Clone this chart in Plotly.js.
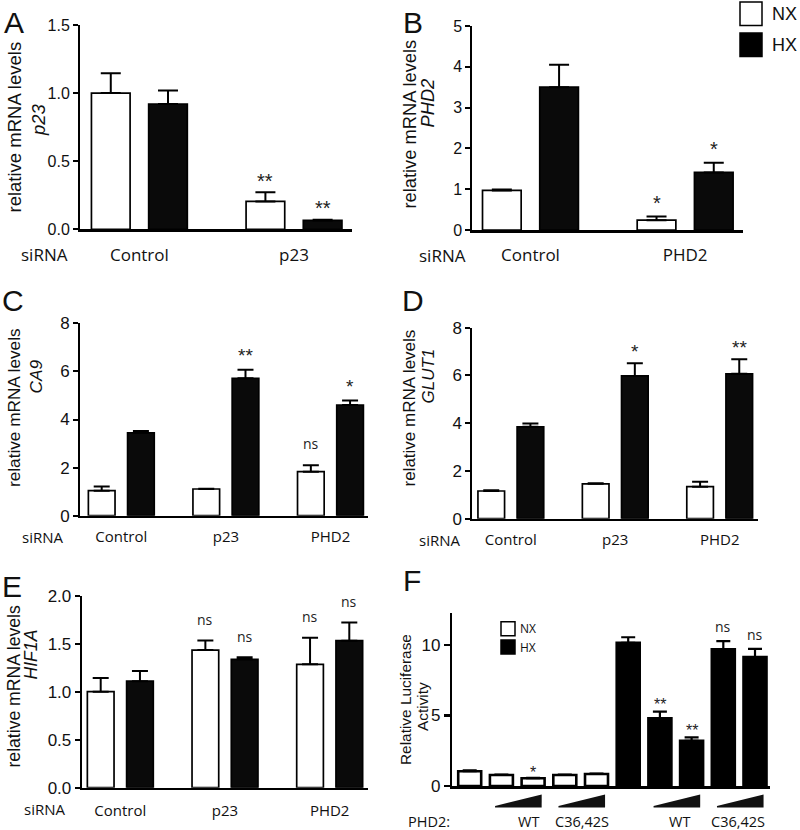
<!DOCTYPE html>
<html><head><meta charset="utf-8">
<script src="https://cdn.plot.ly/plotly-3.0.1.min.js"></script>
<style>body{margin:0;background:#fff}#chart{width:800px;height:830px}</style>
</head><body><div id="chart"></div>
<script>
// ---------------- DATA ----------------
// Panel A: p23 mRNA
const catsA = ['Control', 'p23'];
const nxA = [1.00, 0.205];
const nxAErr = [0.145, 0.067];
const hxA = [0.92, 0.065];
const hxAErr = [0.10, 0.006];
const sigNxA = ['', '**'];
const sigHxA = ['', '**'];

// Panel B: PHD2 mRNA
const catsB = ['Control', 'PHD2'];
const nxB = [0.97, 0.24];
const nxBErr = [0.02, 0.09];
const hxB = [3.50, 1.41];
const hxBErr = [0.55, 0.24];
const sigNxB = ['', '*'];
const sigHxB = ['', '*'];

// Panel C: CA9 mRNA
const catsC = ['Control', 'p23', 'PHD2'];
const nxC = [1.04, 1.11, 1.83];
const nxCErr = [0.17, 0.01, 0.27];
const hxC = [3.45, 5.71, 4.60];
const hxCErr = [0.07, 0.36, 0.19];
const sigNxC = ['', '', 'ns'];
const sigHxC = ['', '**', '*'];

// Panel D: GLUT1 mRNA
const catsD = ['Control', 'p23', 'PHD2'];
const nxD = [1.16, 1.46, 1.34];
const nxDErr = [0.03, 0.02, 0.21];
const hxD = [3.85, 5.98, 6.07];
const hxDErr = [0.14, 0.53, 0.61];
const sigNxD = ['', '', ''];
const sigHxD = ['', '*', '**'];

// Panel E: HIF1A mRNA
const catsE = ['Control', 'p23', 'PHD2'];
const nxE = [1.00, 1.434, 1.285];
const nxEErr = [0.143, 0.10, 0.278];
const hxE = [1.11, 1.337, 1.531];
const hxEErr = [0.106, 0.021, 0.19];
const sigNxE = ['', 'ns', 'ns'];
const sigHxE = ['', 'ns', 'ns'];

// Panel F: luciferase activity
const catsF = ['NX', 'NX WT low', 'NX WT high', 'NX C36,42S low', 'NX C36,42S high',
               'HX', 'HX WT low', 'HX WT high', 'HX C36,42S low', 'HX C36,42S high'];
const nxF = [1.05, 0.78, 0.55, 0.78, 0.85];
const nxFErr = [0.06, 0.03, 0.03, 0.03, 0.03];
const hxF = [10.15, 4.80, 3.20, 9.70, 9.15];
const hxFErr = [0.40, 0.47, 0.25, 0.58, 0.57];
const sigNxF = ['', '', '*', '', ''];
const sigHxF = ['', '**', '**', 'ns', 'ns'];
const wedgePairsF = [[1, 2], [3, 4], [6, 7], [8, 9]];
const wedgeLabelsF = ['WT', 'C36,42S', 'WT', 'C36,42S'];

// axis title texts
const yTitleMain = 'relative mRNA levels';
const genes = ['p23', 'PHD2', 'CA9', 'GLUT1', 'HIF1A'];
const yTitleF = ['Relative Luciferase', 'Activity'];

// ---------------- LAYOUT HELPERS ----------------
const W = 800, H = 830;
const px = x => x / W;
const py = y => 1 - y / H;
const ARIAL = 'Liberation Sans, Arial, Helvetica, sans-serif';
const MYRIAD = 'Open Sans, Noto Sans, sans-serif';

// t1/t2: [centerX, centerY] in px of the two title lines
const panels = [
  {letter: 'A', letterPos: [2, 4], cats: catsA, nx: nxA, nxe: nxAErr, hx: hxA, hxe: hxAErr, sN: sigNxA, sH: sigHxA,
   dom: [80, 352, 25, 229.3], xr: [-0.384, 1.375], yr: [0, 1.5], dtick: 0.5, fmt: '.1f',
   w: 0.25, gap: 0.12, tickFs: 16, catFs: 17, titleFs: 18.5, astFs: 20, nsFs: 14, gapPx: 15, catStand: 9, cap: 10,
   t1: [14.5, 127], t2: [38, 120], siX: 19},
  {letter: 'B', letterPos: [401, 4], cats: catsB, nx: nxB, nxe: nxBErr, hx: hxB, hxe: hxBErr, sN: sigNxB, sH: sigHxB,
   dom: [472.3, 743, 26, 230], xr: [-0.376, 1.374], yr: [0, 5], dtick: 1, fmt: '',
   w: 0.25, gap: 0.12, tickFs: 16, catFs: 17, titleFs: 18.3, astFs: 20, nsFs: 14, gapPx: 17.5, catStand: 8, cap: 10,
   t1: [409, 124.5], t2: [427.5, 103], siX: 417},
  {letter: 'C', letterPos: [0, 282], cats: catsC, nx: nxC, nxe: nxCErr, hx: hxC, hxe: hxCErr, sN: sigNxC, sH: sigHxC,
   dom: [80, 368, 323.3, 515.7], xr: [-0.395, 2.359], yr: [0, 8], dtick: 2, fmt: '',
   w: 0.255, gap: 0.12, tickFs: 17, catFs: 15, titleFs: 17.2, astFs: 19, nsFs: 14, gapPx: 17.5, catStand: 6, cap: 8,
   t1: [13.5, 407.5], t2: [35.5, 377], siX: 20},
  {letter: 'D', letterPos: [400, 282], cats: catsD, nx: nxD, nxe: nxDErr, hx: hxD, hxe: hxDErr, sN: sigNxD, sH: sigHxD,
   dom: [472.3, 758, 327.7, 518.7], xr: [-0.369, 2.367], yr: [0, 8], dtick: 2, fmt: '',
   w: 0.255, gap: 0.12, tickFs: 17, catFs: 15, titleFs: 17, astFs: 19, nsFs: 14, gapPx: 14.5, catStand: 6, cap: 8,
   t1: [409, 408.5], t2: [427.5, 376], siX: 417},
  {letter: 'E', letterPos: [0, 568], cats: catsE, nx: nxE, nxe: nxEErr, hx: hxE, hxe: hxEErr, sN: sigNxE, sH: sigHxE,
   dom: [81.7, 368.3, 595.7, 787.7], xr: [-0.369, 2.369], yr: [0, 2], dtick: 0.5, fmt: '.1f',
   w: 0.255, gap: 0.12, tickFs: 17, catFs: 15, titleFs: 17.6, astFs: 19, nsFs: 14, gapPx: 16.5, catStand: 8, cap: 8,
   t1: [13.5, 686], t2: [30.5, 655], siX: 22},
];

const data = [];
const annotations = [];
const shapes = [];
const layout = {
  width: W, height: H, margin: {l: 0, r: 0, t: 0, b: 0},
  paper_bgcolor: '#fff', plot_bgcolor: '#fff', showlegend: false, barmode: 'overlay',
  font: {family: ARIAL, color: '#000'},
  annotations, shapes
};

function sigAnn(txt, xref, yref, x, y, astFs, nsFs, gapPx) {
  if (!txt) return;
  const isNs = txt === 'ns';
  const fs = isNs ? nsFs : astFs;
  annotations.push({
    text: txt, xref, yref, x, y, xanchor: 'center', yanchor: 'bottom', showarrow: false,
    yshift: gapPx - (isNs ? 0.52 : 0.825) * fs,
    font: {family: isNs ? MYRIAD : ARIAL, size: fs, color: '#222'}
  });
}

function vText(text, pos, fs) {
  annotations.push({text, xref: 'paper', yref: 'paper', x: px(pos[0]), y: py(pos[1]), textangle: -90,
    xanchor: 'center', yanchor: 'middle', showarrow: false, font: {family: ARIAL, size: fs, color: '#111'}});
}

panels.forEach((p, i) => {
  const sfx = i === 0 ? '' : String(i + 1);
  const xref = 'x' + sfx, yref = 'y' + sfx;
  const nxOff = -(p.w + p.gap / 2), hxOff = p.gap / 2;
  const eb = (e) => ({type: 'data', symmetric: false, array: e, arrayminus: e.map(() => 0),
                      color: '#000', thickness: 2, width: p.cap});
  data.push({type: 'bar', name: 'NX', x: p.cats, y: p.nx, xaxis: xref, yaxis: yref,
    width: p.w, offset: nxOff, marker: {color: '#fff', line: {color: '#000', width: 1.7}}, error_y: eb(p.nxe)});
  data.push({type: 'bar', name: 'HX', x: p.cats, y: p.hx, xaxis: xref, yaxis: yref,
    width: p.w, offset: hxOff, marker: {color: '#0a0a0a', line: {color: '#000', width: 1.7}}, error_y: eb(p.hxe)});

  layout['xaxis' + sfx] = {
    domain: [px(p.dom[0]), px(p.dom[1])], anchor: yref, type: 'category', range: p.xr,
    showline: true, linewidth: 2.5, linecolor: '#000', ticks: '', showgrid: false, zeroline: false,
    tickfont: {family: MYRIAD, size: p.catFs, color: '#111'}, ticklabelstandoff: p.catStand, fixedrange: true
  };
  layout['yaxis' + sfx] = {
    domain: [py(p.dom[3]), py(p.dom[2])], anchor: xref, range: p.yr, dtick: p.dtick, tick0: 0, tickformat: p.fmt,
    showline: true, linewidth: 2, linecolor: '#000', ticks: 'outside', ticklen: 5, tickwidth: 2, tickcolor: '#000',
    showgrid: false, zeroline: false, tickfont: {family: ARIAL, size: p.tickFs, color: '#111'}, fixedrange: true
  };
  p.cats.forEach((c, k) => {
    sigAnn(p.sN[k], xref, yref, k + nxOff + p.w / 2, p.nx[k] + p.nxe[k], p.astFs, p.nsFs, p.gapPx);
    sigAnn(p.sH[k], xref, yref, k + hxOff + p.w / 2, p.hx[k] + p.hxe[k], p.astFs, p.nsFs, p.gapPx);
  });
  // y-axis title (two lines)
  vText(yTitleMain, p.t1, p.titleFs);
  vText('<i>' + genes[i] + '</i>', p.t2, p.titleFs);
  // panel letter
  annotations.push({text: p.letter, xref: 'paper', yref: 'paper', x: px(p.letterPos[0]), y: py(p.letterPos[1]),
    xanchor: 'left', yanchor: 'top', showarrow: false, font: {family: ARIAL, size: 30, color: '#111'}});
  // siRNA label
  annotations.push({text: 'siRNA', xref: 'paper', yref: yref + ' domain', x: px(p.siX), y: 0,
    xanchor: 'left', yanchor: 'middle', yshift: -(i < 2 ? 25 : 21.5), showarrow: false,
    font: {family: MYRIAD, size: p.catFs, color: '#111'}});
});

// ---------------- PANEL F ----------------
{
  const xref = 'x6', yref = 'y6';
  const wF = 0.725;
  const eb = (e) => ({type: 'data', symmetric: false, array: e, arrayminus: e.map(() => 0),
                      color: '#000', thickness: 2.2, width: 7});
  data.push({type: 'bar', name: 'NX', x: catsF.slice(0, nxF.length), y: nxF, xaxis: xref, yaxis: yref,
    width: wF, offset: -wF / 2, marker: {color: '#fff', line: {color: '#000', width: 2.6}}, error_y: eb(nxFErr)});
  data.push({type: 'bar', name: 'HX', x: catsF.slice(nxF.length), y: hxF, xaxis: xref, yaxis: yref,
    width: wF, offset: -wF / 2, marker: {color: '#000', line: {color: '#000', width: 2.6}}, error_y: eb(hxFErr)});
  layout.xaxis6 = {
    domain: [px(452.3), px(770)], anchor: yref, type: 'category', categoryorder: 'array', categoryarray: catsF,
    range: [-0.549, 9.473], showline: true, linewidth: 3, linecolor: '#000', ticks: '', showticklabels: false,
    showgrid: false, zeroline: false, fixedrange: true
  };
  layout.yaxis6 = {
    domain: [py(786), py(613.3)], anchor: xref, range: [0, 12.25], dtick: 5, tick0: 0,
    showline: true, linewidth: 2.5, linecolor: '#000', ticks: 'outside', ticklen: 6, tickwidth: 2.5, tickcolor: '#000',
    showgrid: false, zeroline: false, tickfont: {family: ARIAL, size: 17, color: '#111'}, fixedrange: true
  };
  vText(yTitleF[0], [405, 700], 15.4);
  vText(yTitleF[1], [422, 707], 15.4);
  nxF.forEach((v, k) => sigAnn(sigNxF[k], xref, yref, k, v + nxFErr[k], 16, 14, 8));
  hxF.forEach((v, k) => sigAnn(sigHxF[k], xref, yref, k + nxF.length, v + hxFErr[k], 16, 14, 10));
  // dose wedges
  const labelShift = [0.35, 0.03, 0.11, -0.05];
  wedgePairsF.forEach((pr, k) => {
    const a = pr[0] - 0.2, b = pr[1] + 0.27;
    shapes.push({type: 'path', xref, yref: 'paper', layer: 'above',
      path: `M${a},${py(806)} L${b},${py(794.5)} L${b},${py(807.5)} L${a},${py(807.5)} Z`,
      fillcolor: '#111', line: {width: 0}});
    annotations.push({text: wedgeLabelsF[k], xref, yref: 'paper', x: (pr[0] + pr[1]) / 2 + labelShift[k], y: py(821),
      xanchor: 'center', yanchor: 'middle', showarrow: false, font: {family: MYRIAD, size: 14.5, color: '#111'}});
  });
  annotations.push({text: 'PHD2:', xref: 'paper', yref: 'paper', x: px(406), y: py(821), xanchor: 'left',
    yanchor: 'middle', showarrow: false, font: {family: MYRIAD, size: 14.5, color: '#111'}});
  annotations.push({text: 'F', xref: 'paper', yref: 'paper', x: px(401), y: py(562), xanchor: 'left', yanchor: 'top',
    showarrow: false, font: {family: ARIAL, size: 30, color: '#111'}});
  // inner legend
  [['NX', '#fff', 621.7], ['HX', '#000', 640]].forEach(([t, c, y0]) => {
    shapes.push({type: 'rect', xref: 'paper', yref: 'paper', x0: px(501), x1: px(515), y0: py(y0), y1: py(y0 + 14),
      fillcolor: c, line: {color: '#000', width: 1.5}});
    annotations.push({text: t, xref: 'paper', yref: 'paper', x: px(518), y: py(y0 + 7), xanchor: 'left', yanchor: 'middle',
      showarrow: false, font: {family: MYRIAD, size: 12, color: '#111'}});
  });
}

// top-right legend (NX / HX)
[['NX', '#fff', 2], ['HX', '#000', 33]].forEach(([t, c, y0]) => {
  shapes.push({type: 'rect', xref: 'paper', yref: 'paper', x0: px(740), x1: px(762), y0: py(y0), y1: py(y0 + 23.5),
    fillcolor: c, line: {color: '#000', width: 1.5}});
  annotations.push({text: t, xref: 'paper', yref: 'paper', x: px(770), y: py(y0 + 12), xanchor: 'left', yanchor: 'middle',
    showarrow: false, font: {family: ARIAL, size: 18, color: '#111'}});
});

Plotly.newPlot('chart', data, layout, {staticPlot: true, displayModeBar: false});
</script>
</body></html>
